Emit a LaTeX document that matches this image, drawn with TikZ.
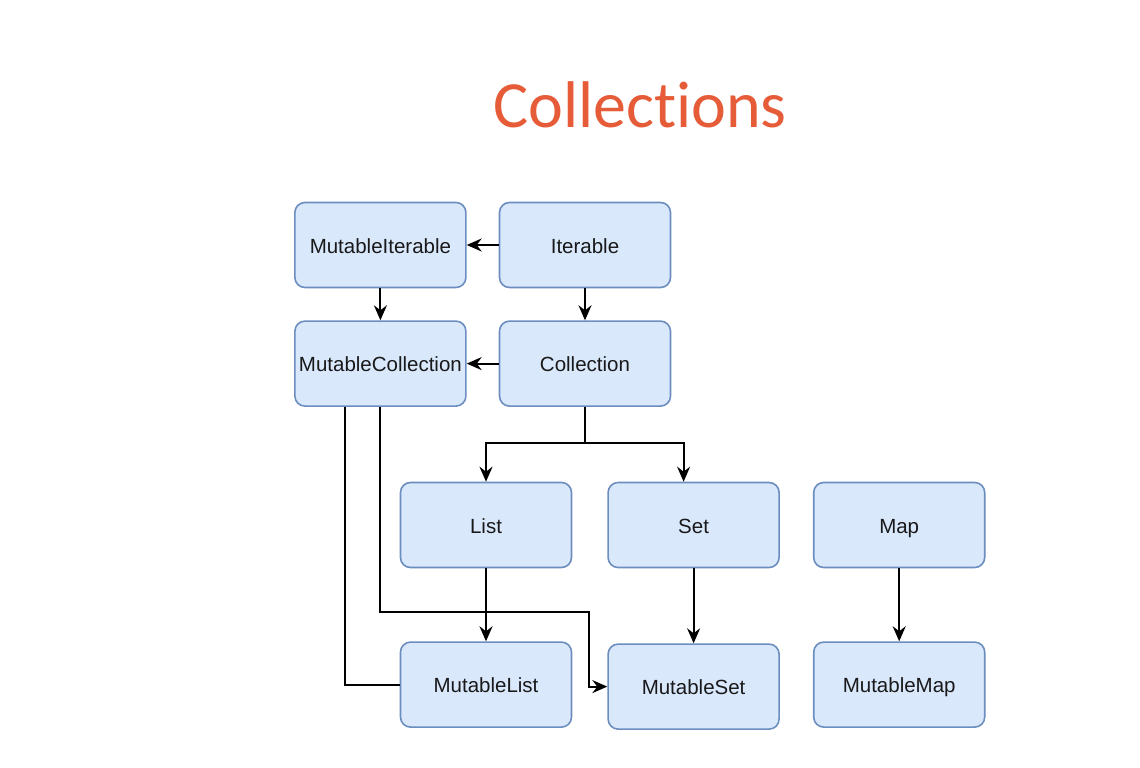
\documentclass[tikz,border=0pt]{standalone}
\usepackage{fontspec}
\setmainfont{Liberation Sans}
\newfontfamily\titlefont[Ligatures=NoCommon, RawFeature={-calt}]{Carlito}
\usetikzlibrary{arrows.meta, positioning}

\definecolor{boxfill}{HTML}{DAE8FC}
\definecolor{boxline}{HTML}{6C8EBF}
\definecolor{titleorange}{HTML}{E65C38}

\begin{document}
\begin{tikzpicture}[
        x=1pt, y=-1pt,
        kbox/.style={rectangle, rounded corners=10pt, draw=boxline, fill=boxfill,
            line width=1.6pt, minimum width=171pt, minimum height=85pt,
            inner sep=2pt, text height=18pt, text depth=2pt,
            text=black!90, font=\fontsize{20.5}{23}\selectfont},
        link/.style={-{Stealth[length=15pt, width=13pt, inset=5pt]}, black, line width=2pt},
        wire/.style={black, line width=2pt}
    ]
        \useasboundingbox (0,0) rectangle (1140,768);

        % Tiêu đề
        \node[anchor=base, text=titleorange, font=\titlefont\fontsize{66}{70}\selectfont] (title) at (640,127) {Collect\kern0pt{}ions};

        % Các hộp
        \node[kbox] (iterable) at (585,245) {Iterable};
        \node[kbox, left=32pt of iterable] (mutiterable) {MutableIterable};
        \node[kbox, below=32pt of iterable] (collection) {Collection};
        \node[kbox, left=32pt of collection] (mutcollection) {MutableCollection};
        \node[kbox] (list) at (486,525) {List};
        \node[kbox, right=35pt of list] (set) {Set};
        \node[kbox, right=33pt of set] (map) {Map};
        \node[kbox, below=73pt of list] (mutlist) {MutableList};
        \node[kbox, below=75pt of set] (mutset) {MutableSet};
        \node[kbox, below=73pt of map] (mutmap) {MutableMap};

        % Các liên kết
        \draw[link] (iterable) -- (mutiterable);
        \draw[link] (mutiterable) -- (mutcollection);
        \draw[link] (iterable) -- (collection);
        \draw[link] (collection) -- (mutcollection);
        \coordinate (split) at ([yshift=-36pt]collection.south);
        \draw[link] (collection.south) -- (split) -| (list.north);
        \draw[link] (split) -| ([xshift=-10pt]set.north);
        \draw[link] (list) -- (mutlist);
        \draw[link] (set) -- (mutset);
        \draw[link] (map) -- (mutmap);
        \draw[wire] ([xshift=-35pt]mutcollection.south) |- (mutlist.west);
        \draw[link] (mutcollection.south) -- ++(0,205) -| ([xshift=-18pt]mutset.west) -- (mutset.west);
    \end{tikzpicture}
\end{document}
